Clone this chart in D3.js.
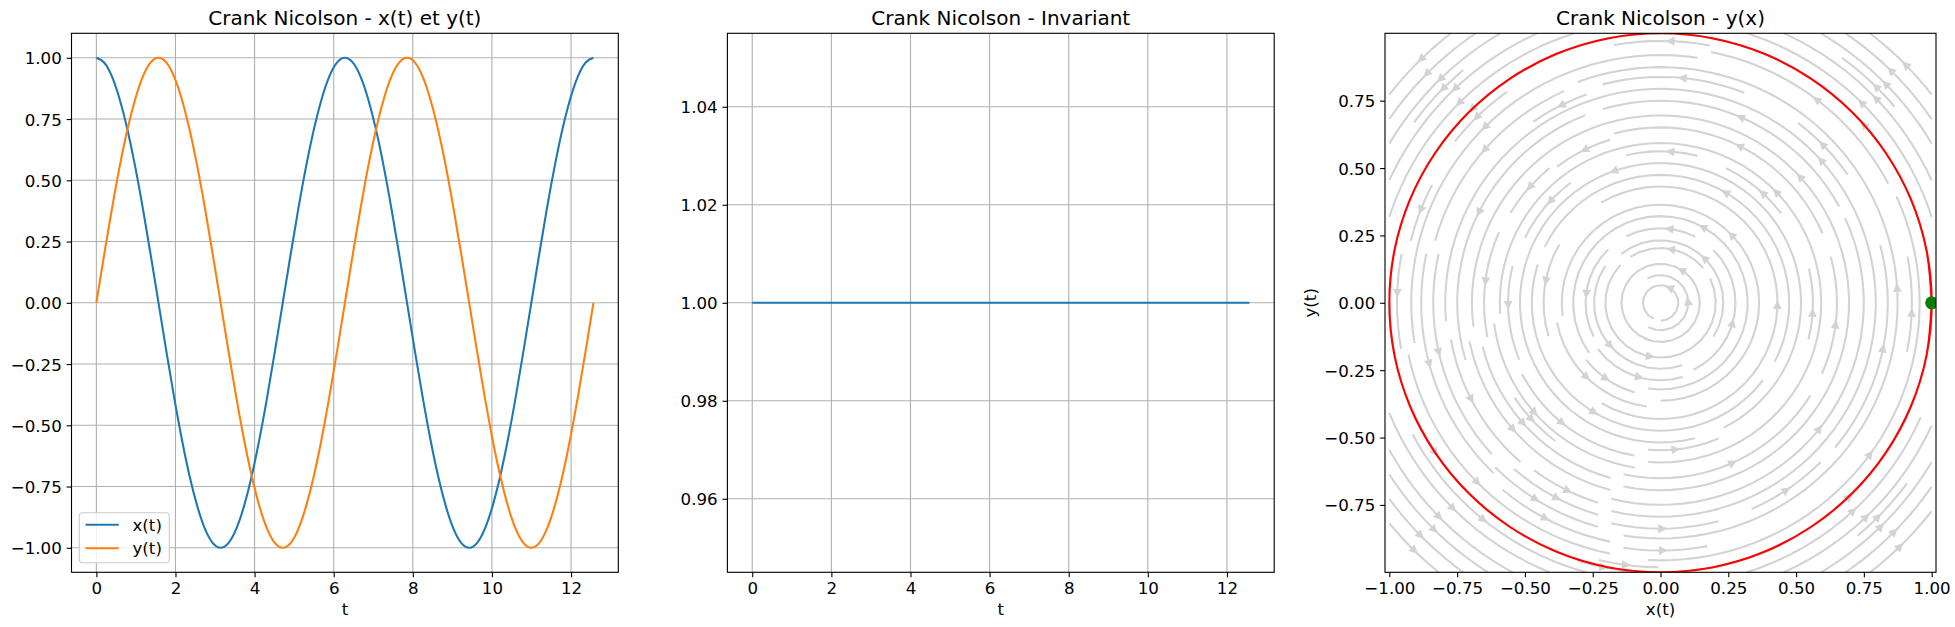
<!DOCTYPE html>
<html><head><meta charset="utf-8">
<script src="https://cdn.jsdelivr.net/npm/d3@7"></script>
<style>
body{margin:0;background:#fff;}
svg{display:block;font-family:"DejaVu Sans",sans-serif;}
</style></head><body><svg id="chart" width="1955" height="627"></svg>
<script>
// ---------------- data ----------------
const tValues = [0, 0.196, 0.393, 0.589, 0.785, 0.982, 1.178, 1.374, 1.571, 1.767, 1.963, 2.160, 2.356, 2.553, 2.749, 2.945, 3.142,
  3.338, 3.534, 3.731, 3.927, 4.123, 4.320, 4.516, 4.712, 4.909, 5.105, 5.301, 5.498, 5.694, 5.890, 6.087, 6.283,
  6.480, 6.676, 6.872, 7.069, 7.265, 7.461, 7.658, 7.854, 8.050, 8.247, 8.443, 8.639, 8.836, 9.032, 9.228, 9.425,
  9.621, 9.817, 10.014, 10.210, 10.407, 10.603, 10.799, 10.996, 11.192, 11.388, 11.585, 11.781, 11.977, 12.174, 12.370, 12.566];
const xValues = [1, 0.981, 0.924, 0.831, 0.707, 0.556, 0.383, 0.195, 0, -0.195, -0.383, -0.556, -0.707, -0.831, -0.924, -0.981, -1,
  -0.981, -0.924, -0.831, -0.707, -0.556, -0.383, -0.195, 0, 0.195, 0.383, 0.556, 0.707, 0.831, 0.924, 0.981, 1,
  0.981, 0.924, 0.831, 0.707, 0.556, 0.383, 0.195, 0, -0.195, -0.383, -0.556, -0.707, -0.831, -0.924, -0.981, -1,
  -0.981, -0.924, -0.831, -0.707, -0.556, -0.383, -0.195, 0, 0.195, 0.383, 0.556, 0.707, 0.831, 0.924, 0.981, 1];
const yValues = [0, 0.195, 0.383, 0.556, 0.707, 0.831, 0.924, 0.981, 1, 0.981, 0.924, 0.831, 0.707, 0.556, 0.383, 0.195, 0,
  -0.195, -0.383, -0.556, -0.707, -0.831, -0.924, -0.981, -1, -0.981, -0.924, -0.831, -0.707, -0.556, -0.383, -0.195, 0,
  0.195, 0.383, 0.556, 0.707, 0.831, 0.924, 0.981, 1, 0.981, 0.924, 0.831, 0.707, 0.556, 0.383, 0.195, 0,
  -0.195, -0.383, -0.556, -0.707, -0.831, -0.924, -0.981, -1, -0.981, -0.924, -0.831, -0.707, -0.556, -0.383, -0.195, 0];
const invariantValues = [1, 1, 1, 1, 1, 1, 1, 1, 1, 1, 1, 1, 1, 1, 1, 1, 1,
  1, 1, 1, 1, 1, 1, 1, 1, 1, 1, 1, 1, 1, 1, 1, 1,
  1, 1, 1, 1, 1, 1, 1, 1, 1, 1, 1, 1, 1, 1, 1, 1,
  1, 1, 1, 1, 1, 1, 1, 1, 1, 1, 1, 1, 1, 1, 1, 1];
const seriesNames = ["x(t)", "y(t)"];
const panelTitles = ["Crank Nicolson - x(t) et y(t)", "Crank Nicolson - Invariant", "Crank Nicolson - y(x)"];
const tTicks = [0, 2, 4, 6, 8, 10, 12];
const xyTicks = [-1, -0.75, -0.5, -0.25, 0, 0.25, 0.5, 0.75, 1];
const invariantTicks = [0.96, 0.98, 1.00, 1.02, 1.04];
const phaseXTicks = [-1, -0.75, -0.5, -0.25, 0, 0.25, 0.5, 0.75, 1];
const phaseYTicks = [-0.75, -0.5, -0.25, 0, 0.25, 0.5, 0.75];
// vector field of the system (x' = -y, y' = x) and its sampling grid
const fieldMatrix = [[0, -1], [1, 0]];
const fieldRange = [-1, 1];
const fieldGridCount = 20;
const streamDensity = 1.5;
const initialPoint = [1, 0];

// ---------------- layout ----------------
const svg = d3.select("#chart");
const TOP = 33.3, BOTTOM = 572.3;
const FS = 16.67, LW = 2.08, TICK = 4.86, SPW = 1.11;
const C_BLUE = "#1f77b4", C_ORANGE = "#ff7f0e";

function setupPanel(idx, left, right, xDomain, yDomain, xTicks, yTicks, xFmt, yFmt, xLabel, yLabel, grid) {
  const x = d3.scaleLinear().domain(xDomain).range([left, right]);
  const y = d3.scaleLinear().domain(yDomain).range([BOTTOM, TOP]);
  const g = svg.append("g");
  const clipId = "clip" + idx;
  svg.append("clipPath").attr("id", clipId).append("rect")
    .attr("x", left).attr("y", TOP).attr("width", right - left).attr("height", BOTTOM - TOP);
  if (grid) {
    const gg = g.append("g");
    gg.selectAll(".gx").data(xTicks).join("line")
      .attr("x1", d => x(d)).attr("x2", d => x(d)).attr("y1", TOP).attr("y2", BOTTOM)
      .attr("stroke", "#b0b0b0").attr("stroke-width", SPW);
    gg.selectAll(".gy").data(yTicks).join("line")
      .attr("y1", d => y(d)).attr("y2", d => y(d)).attr("x1", left).attr("x2", right)
      .attr("stroke", "#b0b0b0").attr("stroke-width", SPW);
  }
  const content = g.append("g").attr("clip-path", `url(#${clipId})`);
  const overlay = svg.append("g");
  const ax = overlay.append("g").attr("transform", `translate(0,${BOTTOM})`)
    .call(d3.axisBottom(x).tickValues(xTicks).tickFormat(xFmt).tickSize(TICK).tickPadding(TICK));
  const ay = overlay.append("g").attr("transform", `translate(${left},0)`)
    .call(d3.axisLeft(y).tickValues(yTicks).tickFormat(yFmt).tickSize(TICK).tickPadding(TICK));
  [ax, ay].forEach(a => {
    a.select(".domain").remove();
    a.attr("font-family", null).attr("font-size", null);
    a.selectAll("line").attr("stroke", "#000").attr("stroke-width", SPW);
    a.selectAll("text").attr("fill", "#000").style("font-size", FS + "px").style("font-family", "DejaVu Sans");
  });
  ay.selectAll("text").attr("dy", "0.36em");
  overlay.append("rect").attr("x", left).attr("y", TOP).attr("width", right - left).attr("height", BOTTOM - TOP)
    .attr("fill", "none").attr("stroke", "#000").attr("stroke-width", SPW);
  overlay.append("text").attr("x", (left + right) / 2).attr("y", 25).attr("text-anchor", "middle")
    .style("font-size", "20px").attr("fill", "#000").text(panelTitles[idx]);
  overlay.append("text").attr("x", (left + right) / 2).attr("y", 615).attr("text-anchor", "middle")
    .style("font-size", FS + "px").attr("fill", "#000").text(xLabel);
  if (yLabel) {
    overlay.append("text").attr("transform", `translate(${left - 69},${(TOP + BOTTOM) / 2}) rotate(-90)`)
      .attr("text-anchor", "middle").style("font-size", FS + "px").attr("fill", "#000").text(yLabel);
  }
  return {x, y, content, overlay};
}

const fmtT = d3.format("d"), fmt2 = d3.format(".2f");

// ---------- panel 1 ----------
const p1 = setupPanel(0, 71.5, 618.3, [-0.6283, 13.1947], [-1.1, 1.1], tTicks, xyTicks, fmtT, fmt2, "t", null, true);
const line1 = vals => d3.line().curve(d3.curveNatural).x((d, i) => p1.x(tValues[i])).y(d => p1.y(d))(vals);
p1.content.append("path").attr("d", line1(xValues)).attr("fill", "none").attr("stroke", C_BLUE).attr("stroke-width", LW);
p1.content.append("path").attr("d", line1(yValues)).attr("fill", "none").attr("stroke", C_ORANGE).attr("stroke-width", LW);
const lg = p1.overlay.append("g");
lg.append("rect").attr("x", 79.3).attr("y", 512.7).attr("width", 90).attr("height", 50).attr("rx", 3.3)
  .attr("fill", "#fff").attr("fill-opacity", 0.8).attr("stroke", "#cccccc").attr("stroke-width", SPW);
[C_BLUE, C_ORANGE].forEach((c, i) => {
  const yy = 524.7 + i * 23.6;
  lg.append("line").attr("x1", 85.5).attr("x2", 118.8).attr("y1", yy).attr("y2", yy).attr("stroke", c).attr("stroke-width", LW);
  lg.append("text").attr("x", 132.5).attr("y", yy).attr("dy", "0.36em").style("font-size", FS + "px").attr("fill", "#000").text(seriesNames[i]);
});

// ---------- panel 2 ----------
const p2 = setupPanel(1, 727.4, 1274.2, [-0.6283, 13.1947], [0.945, 1.055], tTicks, invariantTicks, fmtT, fmt2, "t", null, true);
p2.content.append("path")
  .attr("d", d3.line().x((d, i) => p2.x(tValues[i])).y(d => p2.y(d))(invariantValues))
  .attr("fill", "none").attr("stroke", C_BLUE).attr("stroke-width", LW);

// ---------- panel 3 ----------
const p3 = setupPanel(2, 1385, 1936, [-1.016, 1.016], [-1.0, 1.0], phaseXTicks, phaseYTicks, fmt2, fmt2, "x(t)", "y(t)", false);

function computeStreamlines(A, range, nGrid, density) {
  const lo = range[0], hi = range[1];
  const nx = nGrid, ny = nGrid;
  const dx = (hi - lo) / (nx - 1), dy = (hi - lo) / (ny - 1);
  const U = [], V = [], S = [];
  for (let j = 0; j < ny; j++) {
    U.push([]); V.push([]); S.push([]);
    const yd = lo + j * dy;
    for (let i = 0; i < nx; i++) {
      const xd = lo + i * dx;
      const ug = (A[0][0] * xd + A[0][1] * yd) / dx;
      const vg = (A[1][0] * xd + A[1][1] * yd) / dy;
      U[j].push(ug); V[j].push(vg);
      S[j].push(Math.hypot(ug / (nx - 1), vg / (ny - 1)));
    }
  }
  const mnx = Math.floor(30 * density), mny = Math.floor(30 * density);
  const mask = Array.from({length: mny}, () => new Array(mnx).fill(0));
  const xg2m = (mnx - 1) / (nx - 1), yg2m = (mny - 1) / (ny - 1);
  const xm2g = 1 / xg2m, ym2g = 1 / yg2m;
  let traj = [], cur = null;
  const OUT = {k: 1}, TERM = {k: 2}, INVALID = {k: 3};
  function pyRound(v) {
    const f = Math.floor(v), d = v - f;
    if (d > 0.5) return f + 1;
    if (d < 0.5) return f;
    return (f % 2 === 0) ? f : f + 1;
  }
  const within = (xi, yi) => xi >= 0 && xi <= nx - 1 && yi >= 0 && yi <= ny - 1;
  function interp(a, xi, yi) {
    const x = Math.floor(xi), y = Math.floor(yi);
    const xn = x === nx - 1 ? x : x + 1, yn = y === ny - 1 ? y : y + 1;
    const xt = xi - x, yt = yi - y;
    const a0 = a[y][x] * (1 - xt) + a[y][xn] * xt;
    const a1 = a[yn][x] * (1 - xt) + a[yn][xn] * xt;
    return a0 * (1 - yt) + a1 * yt;
  }
  function fwd(xi, yi) {
    if (!within(xi, yi)) throw OUT;
    const sp = interp(S, xi, yi);
    if (sp === 0) throw TERM;
    return [interp(U, xi, yi) / sp, interp(V, xi, yi) / sp];
  }
  function bwd(xi, yi) { const r = fwd(xi, yi); return [-r[0], -r[1]]; }
  function updMask(xm, ym) {
    if (!cur || cur[0] !== xm || cur[1] !== ym) {
      if (mask[ym][xm] === 0) { traj.push([ym, xm]); mask[ym][xm] = 1; cur = [xm, ym]; }
      else throw INVALID;
    }
  }
  function updTraj(xg, yg) {
    if (!within(xg, yg)) throw INVALID;
    updMask(pyRound(xg * xg2m), pyRound(yg * yg2m));
  }
  function euler(xyf, f) {
    const [xi, yi] = xyf[xyf.length - 1];
    const [cx, cy] = f(xi, yi);
    const dsx = cx === 0 ? Infinity : (cx < 0 ? xi / -cx : (nx - 1 - xi) / cx);
    const dsy = cy === 0 ? Infinity : (cy < 0 ? yi / -cy : (ny - 1 - yi) / cy);
    const ds = Math.min(dsx, dsy);
    xyf.push([xi + cx * ds, yi + cy * ds]);
    return ds;
  }
  function rk12(x0, y0, f, maxlength) {
    const maxerror = 0.003, maxds = Math.min(1 / mnx, 1 / mny, 0.1);
    let ds = maxds, stotal = 0, xi = x0, yi = y0;
    const xyf = [];
    for (let guard = 0; guard < 100000; guard++) {
      let k1, k2;
      try {
        if (within(xi, yi)) xyf.push([xi, yi]); else throw OUT;
        k1 = f(xi, yi);
        k2 = f(xi + ds * k1[0], yi + ds * k1[1]);
      } catch (e) {
        if (e === OUT) { if (xyf.length) stotal += euler(xyf, f); break; }
        if (e === TERM) break;
        throw e;
      }
      const dx1 = ds * k1[0], dy1 = ds * k1[1];
      const dx2 = ds * 0.5 * (k1[0] + k2[0]), dy2 = ds * 0.5 * (k1[1] + k2[1]);
      const err = Math.hypot((dx2 - dx1) / (nx - 1), (dy2 - dy1) / (ny - 1));
      if (err < maxerror) {
        xi += dx2; yi += dy2;
        try { updTraj(xi, yi); } catch (e) { if (e === INVALID) break; throw e; }
        if (stotal + ds > maxlength) break;
        stotal += ds;
      }
      ds = err === 0 ? maxds : Math.min(maxds, 0.85 * ds * Math.sqrt(maxerror / err));
    }
    return [stotal, xyf];
  }
  function integrate(x0, y0) {
    traj = [];
    try { updMask(pyRound(x0 * xg2m), pyRound(y0 * yg2m)); }
    catch (e) { if (e === INVALID) return null; throw e; }
    let stotal = 0, out = [];
    let [s, xyt] = rk12(x0, y0, bwd, 2.0);
    stotal += s; out = out.concat(xyt.slice().reverse());
    cur = [pyRound(x0 * xg2m), pyRound(y0 * yg2m)];
    [s, xyt] = rk12(x0, y0, fwd, 2.0);
    stotal += s; out = out.concat(xyt.slice(1));
    if (stotal > 0.1) return out;
    traj.forEach(([ym, xm]) => { mask[ym][xm] = 0; });
    return null;
  }
  function* spiral() {
    let xfirst = 0, yfirst = 1, xlast = mnx - 1, ylast = mny - 1, x = 0, y = 0, dir = 0;
    for (let i = 0; i < mnx * mny; i++) {
      yield [x, y];
      if (dir === 0) { x++; if (x >= xlast) { xlast--; dir = 1; } }
      else if (dir === 1) { y++; if (y >= ylast) { ylast--; dir = 2; } }
      else if (dir === 2) { x--; if (x <= xfirst) { xfirst++; dir = 3; } }
      else { y--; if (y <= yfirst) { yfirst++; dir = 0; } }
    }
  }
  const result = [];
  for (const [xm, ym] of spiral()) {
    if (mask[ym][xm] === 0) {
      const t = integrate(xm * xm2g, ym * ym2g);
      if (t) result.push(t.map(p => [lo + p[0] * dx, lo + p[1] * dy]));
    }
  }
  return result;
}

const streams = computeStreamlines(fieldMatrix, fieldRange, fieldGridCount, streamDensity);
const sg = p3.content.append("g");
const sline = d3.line().x(d => p3.x(d[0])).y(d => p3.y(d[1]));
sg.selectAll("path.st").data(streams).join("path").attr("class", "st")
  .attr("d", sline).attr("fill", "none").attr("stroke", "lightgray").attr("stroke-width", LW)
  .attr("stroke-linecap", "butt").attr("stroke-linejoin", "round");
streams.forEach(pts => {
  if (pts.length < 2) return;
  const s = []; let acc = 0;
  for (let i = 1; i < pts.length; i++) { acc += Math.hypot(pts[i][0] - pts[i - 1][0], pts[i][1] - pts[i - 1][1]); s.push(acc); }
  const n = d3.bisectLeft(s, acc / 2);
  const tail = pts[n];
  const seg = pts.slice(n, n + 2);
  const head = [d3.mean(seg, p => p[0]), d3.mean(seg, p => p[1])];
  const tx = p3.x(tail[0]), ty = p3.y(tail[1]), hx = p3.x(head[0]), hy = p3.y(head[1]);
  const L = Math.hypot(hx - tx, hy - ty);
  if (L === 0) return;
  const ux = (hx - tx) / L, uy = (hy - ty) / L;
  const hl = 5.56, hw = 2.78;
  const bx = hx - ux * hl, by = hy - uy * hl;
  const pth = `M${hx},${hy}L${bx - uy * hw},${by + ux * hw}L${bx + uy * hw},${by - ux * hw}Z`;
  sg.append("path").attr("d", pth).attr("fill", "lightgray").attr("stroke", "lightgray")
    .attr("stroke-width", LW).attr("stroke-linejoin", "miter");
});
p3.content.append("path")
  .attr("d", d3.line().curve(d3.curveCatmullRom.alpha(0.5)).x((d, i) => p3.x(xValues[i])).y((d, i) => p3.y(yValues[i]))(xValues))
  .attr("fill", "none").attr("stroke", "red").attr("stroke-width", LW);
p3.content.append("circle").attr("cx", p3.x(initialPoint[0])).attr("cy", p3.y(initialPoint[1])).attr("r", 6.5)
  .attr("fill", "green");
</script></body></html>
